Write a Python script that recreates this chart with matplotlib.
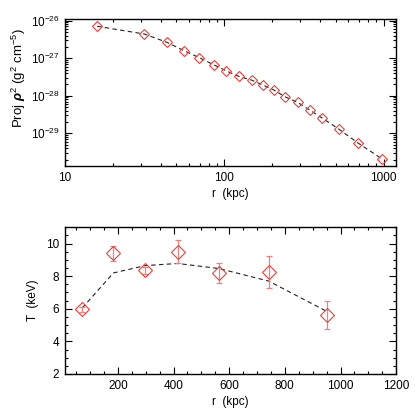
import numpy as np
import matplotlib
matplotlib.use("Agg")
import matplotlib.pyplot as plt
from matplotlib.ticker import LogLocator, MultipleLocator, NullFormatter, FixedLocator

# ---- top panel data: projected rho^2 profile ----
r_top = [15.9, 31.5, 43.6, 55.7, 69.8, 85.8, 102.9, 123, 149, 175, 205, 242,
         290, 343, 412, 523, 692, 977]
rho2 = [7.1e-27, 4.3e-27, 2.7e-27, 1.55e-27, 1.03e-27, 6.6e-28, 4.6e-28, 3.3e-28,
        2.7e-28, 1.93e-28, 1.42e-28, 9.1e-29, 6.7e-29, 4.2e-29, 2.55e-29,
        1.28e-29, 5.4e-30, 2.1e-30]
rho2_model = [7.1e-27, 4.4e-27, 2.65e-27, 1.6e-27, 1.03e-27, 6.7e-28, 4.6e-28, 3.3e-28,
              2.6e-28, 1.93e-28, 1.42e-28, 9.3e-29, 6.6e-29, 4.2e-29, 2.55e-29,
              1.3e-29, 5.5e-30, 2.1e-30]

# ---- bottom panel data: temperature profile ----
r_T = [72, 184, 298, 415, 563, 742, 953]
T = [5.97, 9.40, 8.36, 9.50, 8.21, 8.25, 5.62]
T_err = [0.15, 0.48, 0.23, 0.70, 0.63, 0.97, 0.84]
T_model = [6.05, 8.2, 8.65, 8.78, 8.47, 7.7, 5.82]

xticks_bot = [200, 400, 600, 800, 1000, 1200]
yticks_bot = [2, 4, 6, 8, 10]

red = "#e8403c"
ebred = "#f08080"

plt.rcParams['font.family'] = ['Liberation Sans', 'DejaVu Sans']
plt.rcParams['mathtext.fontset'] = 'custom'
plt.rcParams['mathtext.rm'] = 'Liberation Sans'
plt.rcParams['mathtext.it'] = 'Liberation Sans:italic'
plt.rcParams['mathtext.bf'] = 'Liberation Sans:bold'
plt.rcParams['mathtext.bfit'] = 'Liberation Sans:italic:bold'
plt.rcParams['font.size'] = 8.5

fig = plt.figure(figsize=(4.15, 4.15), dpi=100)

def style(ax):
    ax.tick_params(which='both', direction='in', top=True, right=True, width=0.8,
                   labelsize=8.5, pad=4)
    ax.tick_params(which='major', length=5)
    ax.tick_params(which='minor', length=2.5)
    for s in ax.spines.values():
        s.set_linewidth(1.0)

# top
ax1 = fig.add_axes([0.1566, 0.600, 0.798, 0.354])
ax1.plot(r_top, rho2_model, ls=(0, (4, 3)), color='#222222', lw=0.8, zorder=2)
ax1.plot(r_top, rho2, ls='none', marker='D', ms=5.5, mfc='none', mec=red, mew=0.8, zorder=3)
ax1.set_xscale('log')
ax1.set_yscale('log')
ax1.set_xlim(10, 1200)
ax1.set_ylim(1.35e-30, 1.1e-26)
ax1.xaxis.set_major_locator(FixedLocator([10, 100, 1000]))
ax1.set_xticklabels(['10', '100', '1000'])
ax1.xaxis.set_minor_locator(LogLocator(base=10, subs=np.arange(2, 10)))
ax1.xaxis.set_minor_formatter(NullFormatter())
ax1.yaxis.set_major_locator(FixedLocator([1e-29, 1e-28, 1e-27, 1e-26]))
ax1.set_yticklabels([r'10$^{-29}$', r'10$^{-28}$', r'10$^{-27}$', r'10$^{-26}$'])
ax1.yaxis.set_minor_locator(LogLocator(base=10, subs=np.arange(2, 10), numticks=20))
ax1.yaxis.set_minor_formatter(NullFormatter())
style(ax1)
ax1.set_xlabel('r  (kpc)', fontsize=8.5, labelpad=3)
ax1.set_ylabel(r'Proj $\mathbfit{\rho}^2$ (g$^2$ cm$^{-5}$)', fontsize=9.5)
ax1.yaxis.set_label_coords(-0.112, 0.6)

# bottom
ax2 = fig.add_axes([0.1566, 0.0988, 0.798, 0.3535])
ax2.plot(r_T, T_model, ls=(0, (4, 3)), color='#222222', lw=0.8, zorder=2)
ax2.errorbar(r_T, T, yerr=T_err, fmt='none', ecolor=ebred, elinewidth=0.9,
             capsize=2.5, capthick=0.9, zorder=3)
ax2.plot(r_T, T, ls='none', marker='D', ms=7.5, mfc='none', mec=red, mew=0.8, zorder=4)
ax2.set_xlim(10, 1200)
ax2.set_ylim(2, 11)
ax2.xaxis.set_major_locator(FixedLocator(xticks_bot))
ax2.xaxis.set_minor_locator(MultipleLocator(50))
ax2.yaxis.set_major_locator(FixedLocator(yticks_bot))
ax2.yaxis.set_minor_locator(MultipleLocator(0.5))
style(ax2)
ax2.set_xlabel('r  (kpc)', fontsize=8.5, labelpad=3)
ax2.set_ylabel('T  (keV)', fontsize=8.5)
ax2.yaxis.set_label_coords(-0.078, 0.5)

fig.savefig('out.png', dpi=100)
